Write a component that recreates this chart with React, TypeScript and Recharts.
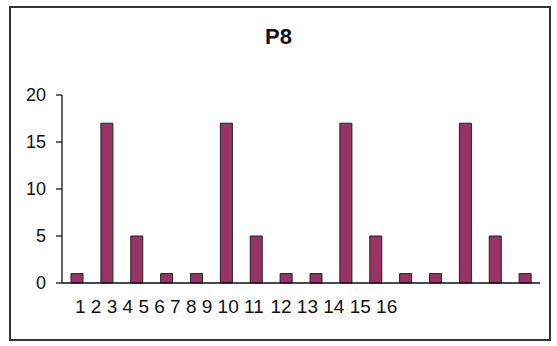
import React from 'react';
import { BarChart, Bar, XAxis, YAxis } from 'recharts';

const categories = ['1', '2', '3', '4', '5', '6', '7', '8', '9', '10', '11', '12', '13', '14', '15', '16'];
const counts = [1, 17, 5, 1, 1, 17, 5, 1, 1, 17, 5, 1, 1, 17, 5, 1];
const yTicks = [0, 5, 10, 15, 20];

const data = categories.map((cat, i) => ({ cat, value: counts[i] }));

const FONT = '"Liberation Sans", Arial, sans-serif';
const LABEL_SIZE = 19;
const LABEL_X0 = 75;

// labels sit packed together at the left, like the original sheet
function labelX(index: number) {
  let x = LABEL_X0;
  for (let j = 0; j < index; j++) {
    x += categories[j].length * 0.556 * LABEL_SIZE + 0.278 * LABEL_SIZE;
  }
  return x;
}

const XLabel = (props: any) => {
  const { y, index } = props;
  return (
    <text x={labelX(index)} y={y + 30} fontSize={LABEL_SIZE} fontFamily={FONT} fill="#111" textAnchor="start">
      {categories[index]}
    </text>
  );
};

export default function App() {
  return (
    <div style={{ position: 'absolute', left: 0, top: 0, width: 557, height: 346, background: '#fff' }}>
      <div
        style={{
          position: 'absolute',
          left: 9,
          top: 6,
          width: 538,
          height: 331,
          border: '2px solid #333',
        }}
      />
      <div
        style={{
          position: 'absolute',
          left: 0,
          width: 557,
          top: 24,
          textAlign: 'center',
          fontFamily: FONT,
          fontWeight: 'bold',
          fontSize: 22,
          color: '#111',
        }}
      >
        P8
      </div>
      <div style={{ position: 'absolute', left: 0, top: 0 }}>
        <BarChart width={557} height={346} data={data} margin={{ top: 95, right: 17, bottom: 33, left: 0 }} barSize={12}>
          <XAxis
            xAxisId="bottom"
            dataKey="cat"
            height={30}
            interval={0}
            axisLine={{ stroke: '#111', strokeWidth: 1.3 }}
            tickLine={false}
            tickSize={0}
            tickMargin={0}
            tick={<XLabel />}
          />
          <YAxis
            yAxisId="left"
            domain={[0, 20]}
            ticks={yTicks}
            width={62}
            tickSize={6}
            tickMargin={10}
            axisLine={{ stroke: '#111', strokeWidth: 1.3 }}
            tickLine={{ stroke: '#111', strokeWidth: 1.3 }}
            tick={{ fontSize: 18, fontFamily: FONT, fill: '#111' }}
          />
          <Bar
            dataKey="value"
            xAxisId="bottom"
            yAxisId="left"
            fill="#993366"
            stroke="#222"
            strokeWidth={1}
            isAnimationActive={false}
          />
        </BarChart>
      </div>
    </div>
  );
}
